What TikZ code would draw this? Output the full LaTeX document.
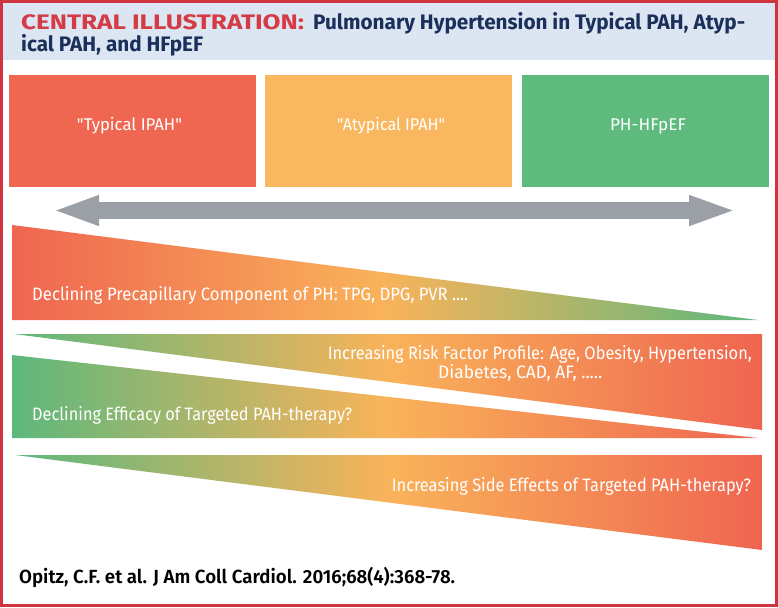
\documentclass[tikz,border=0pt]{standalone}
\usepackage{graphicx}
\usepackage{fontspec}
\setmainfont{Fira Sans}[Ligatures=TeXOff]
\newfontfamily\titlefont{Fira Sans Bold}[Ligatures=TeXOff]
\newfontfamily\citefont{Fira Sans SemiBold}[Ligatures=TeXOff]
\usetikzlibrary{arrows.meta}
\newcommand{\fitto}[2]{\resizebox{#1}{\height}{#2}}
\definecolor{framered}{HTML}{D0343F}
\definecolor{headbg}{HTML}{DCE5F2}
\definecolor{titlered}{HTML}{D43B45}
\definecolor{navy}{HTML}{1B2F5B}
\definecolor{boxred}{HTML}{EF6750}
\definecolor{boxorange}{HTML}{F9B860}
\definecolor{boxgreen}{HTML}{5FBA7E}
\definecolor{arrowgray}{HTML}{9AA0A6}
\definecolor{gr}{HTML}{EF6550}
\definecolor{go}{HTML}{F9B35A}
\definecolor{gg}{HTML}{5DB87C}
\tikzset{
  catbox/.style={fill=#1, draw=none, minimum width=247pt, minimum height=112pt, inner sep=0pt},
  cattext/.style={text=white, inner sep=0pt, font=\fontsize{17}{20}\selectfont},
  wedgetext/.style={text=white, inner sep=0pt, font=\fontsize{18}{21}\selectfont},
  titletext/.style={inner sep=0pt, anchor=base west, font=\titlefont\fontsize{21}{24}\selectfont},
  rog/.style={left color=gr, right color=gg, middle color=go},
  gor/.style={left color=gg, right color=gr, middle color=go},
}
\begin{document}
\begin{tikzpicture}[x=1pt,y=-1pt]
\useasboundingbox (0,0) rectangle (778,607);
\fill[white] (0,0) rectangle (778,607);
\fill[headbg] (3,3) rectangle (775,60);
\draw[framered, line width=3pt] (1.5,1.5) rectangle (776.5,605.5);
% title
\node[titletext, text=titlered] (tr) at (21,30) {\fitto{283pt}{CENTRAL ILLUSTRATION:}};
\node[titletext, text=navy] (t1n) at (313,30) {\fitto{432pt}{Pulmonary Hypertension in Typical PAH, Atyp-}};
\node[titletext, text=navy] (t2n) at (21,52) {\fitto{182pt}{ical PAH, and HFpEF}};
% boxes
\node[catbox=boxred] (b1) at (132.5,131) {};
\node[catbox=boxorange] (b2) at (388.5,131) {};
\node[catbox=boxgreen] (b3) at (645.5,131) {};
\node[cattext] (l1) at (129.5,126) {\fitto{105pt}{"Typical IPAH"}};
\node[cattext] (l2) at (391,126) {\fitto{108pt}{"Atypical IPAH"}};
\node[cattext] (l3) at (648,126) {\fitto{76pt}{PH-HFpEF}};
% arrow
\coordinate (al) at (52,210.5);
\coordinate (ar) at (737,210.5);
\draw[arrowgray, line width=17pt, {Triangle[length=47pt,width=27pt]}-{Triangle[length=48pt,width=27pt]}] (al) -- (ar);
% wedges
\shade[rog] (12,225) -- (12,320) -- (758,320) -- cycle;
\shade[gor] (14,334) -- (762,334) -- (762,430) -- cycle;
\shade[gor] (12,355) -- (12,438) -- (758,438) -- cycle;
\shade[gor] (15,455) -- (762,455) -- (762,550) -- cycle;
% wedge texts
\node[wedgetext, anchor=west] (t1) at (32,295) {\fitto{436pt}{Declining Precapillary Component of PH: TPG, DPG, PVR ....}};
\node[wedgetext, anchor=east] (t2a) at (752,354) {\fitto{424pt}{Increasing Risk Factor Profile: Age, Obesity, Hypertension,}};
\node[wedgetext, anchor=west] (t2b) at (438,373) {\fitto{164pt}{Diabetes, CAD, AF, .....}};
\node[wedgetext, anchor=west] (t3) at (32,415) {\fitto{320pt}{Declining Efficacy of Targeted PAH-therapy?}};
\node[wedgetext, anchor=east] (t4) at (751,486) {\fitto{359pt}{Increasing Side Effects of Targeted PAH-therapy?}};
% citation
\node[anchor=west, inner sep=0pt, text=black, font=\citefont\fontsize{19}{22}\selectfont] (cite) at (19,577)
  {\fitto{436pt}{Opitz, C.F. et al. J Am Coll Cardiol. 2016;68(4):368-78.}};
\end{tikzpicture}
\end{document}
